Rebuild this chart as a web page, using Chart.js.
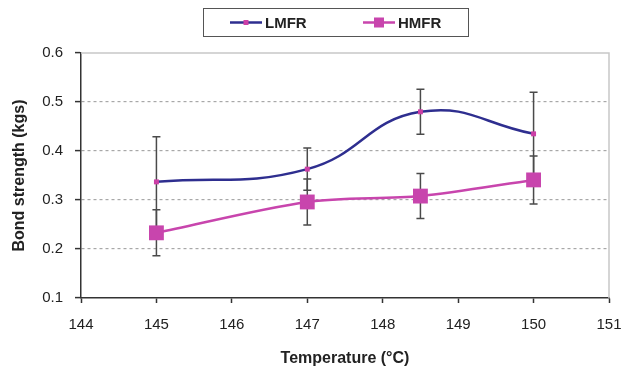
<!DOCTYPE html>
<html>
<head>
<meta charset="utf-8">
<script src="https://cdn.jsdelivr.net/npm/chart.js@4"></script>
<style>
  html, body { margin: 0; padding: 0; background: #fff; }
  #wrap { width: 622px; height: 368px; }
</style>
</head>
<body>
<div id="wrap"><canvas id="bondChart" width="622" height="368"></canvas></div>
<script>
// Temperatures (°C) and mean bond strength (kgs) with ± error
const temperatures = [145, 147, 148.5, 150];
const lmfrValues = [0.337, 0.363, 0.480, 0.435];
const lmfrErrors = [0.092, 0.043, 0.046, 0.085];
const hmfrValues = [0.233, 0.296, 0.308, 0.341];
const hmfrErrors = [0.047, 0.047, 0.046, 0.049];
const seriesNames = ['LMFR', 'HMFR'];
const xTicks = [144, 145, 146, 147, 148, 149, 150, 151];
const yTicks = [0.1, 0.2, 0.3, 0.4, 0.5, 0.6];

const LMFR_LINE = '#2e2e8f';
const LMFR_MARK = '#cc3fa6';
const HMFR_COLOR = '#c845ad';
const FONT = 'Liberation Sans, Arial, sans-serif';

function toPoints(values) {
    return temperatures.map((t, i) => ({ x: t, y: values[i] }));
}

// Vertical error bars with caps, drawn under the lines and markers
const errorBars = {
    id: 'errorBars',
    beforeDatasetsDraw(chart) {
        const { ctx, scales: { x, y } } = chart;
        const sets = [[lmfrValues, lmfrErrors], [hmfrValues, hmfrErrors]];
        ctx.save();
        ctx.strokeStyle = '#4a4a4a';
        ctx.lineWidth = 1.5;
        sets.forEach(([vals, errs]) => {
            vals.forEach((v, i) => {
                const px = x.getPixelForValue(temperatures[i]);
                const top = y.getPixelForValue(v + errs[i]);
                const bot = y.getPixelForValue(v - errs[i]);
                ctx.beginPath();
                ctx.moveTo(px, top); ctx.lineTo(px, bot);
                ctx.moveTo(px - 4, top); ctx.lineTo(px + 4, top);
                ctx.moveTo(px - 4, bot); ctx.lineTo(px + 4, bot);
                ctx.stroke();
            });
        });
        ctx.restore();
    }
};

// Light frame on the top and right of the plot area
const plotFrame = {
    id: 'plotFrame',
    beforeDatasetsDraw(chart) {
        const { ctx, chartArea: a } = chart;
        ctx.save();
        ctx.strokeStyle = '#c8c8c8';
        ctx.lineWidth = 1.5;
        ctx.beginPath();
        ctx.moveTo(a.left, a.top);
        ctx.lineTo(a.right, a.top);
        ctx.lineTo(a.right, a.bottom);
        ctx.stroke();
        ctx.restore();
    }
};

// Boxed legend with line-and-marker samples
const boxLegend = {
    id: 'boxLegend',
    afterDraw(chart) {
        const { ctx } = chart;
        ctx.save();
        ctx.strokeStyle = '#555';
        ctx.lineWidth = 1;
        ctx.strokeRect(203.5, 8.5, 265, 28);
        const items = [
            { x: 230, line: LMFR_LINE, mark: LMFR_MARK, size: 5 },
            { x: 363, line: HMFR_COLOR, mark: HMFR_COLOR, size: 10 }
        ];
        items.forEach((it, i) => {
            const cy = 22.5;
            ctx.strokeStyle = it.line;
            ctx.lineWidth = 2.5;
            ctx.beginPath();
            ctx.moveTo(it.x, cy); ctx.lineTo(it.x + 32, cy);
            ctx.stroke();
            ctx.fillStyle = it.mark;
            ctx.fillRect(it.x + 16 - it.size / 2, cy - it.size / 2, it.size, it.size);
            ctx.fillStyle = '#222';
            ctx.font = 'bold 15px ' + FONT;
            ctx.textBaseline = 'middle';
            ctx.fillText(seriesNames[i], it.x + 35, cy + 1);
        });
        ctx.restore();
    }
};

new Chart(document.getElementById('bondChart'), {
    type: 'scatter',
    data: {
        datasets: [
            {
                label: seriesNames[0],
                data: toPoints(lmfrValues),
                showLine: true,
                tension: 0.45,
                borderColor: LMFR_LINE,
                borderWidth: 2.5,
                pointStyle: 'rect',
                pointRadius: 3.5,
                pointBackgroundColor: LMFR_MARK,
                pointBorderWidth: 0
            },
            {
                label: seriesNames[1],
                data: toPoints(hmfrValues),
                showLine: true,
                tension: 0.3,
                borderColor: HMFR_COLOR,
                borderWidth: 2.5,
                pointStyle: 'rect',
                pointRadius: 10.5,
                pointBackgroundColor: HMFR_COLOR,
                pointBorderWidth: 0
            }
        ]
    },
    options: {
        responsive: false,
        animation: false,
        layout: { padding: { top: 53, right: 0, left: 0, bottom: 0 } },
        plugins: {
            legend: { display: false },
            tooltip: { enabled: false }
        },
        scales: {
            x: {
                type: 'linear',
                min: xTicks[0],
                max: xTicks[xTicks.length - 1],
                afterBuildTicks: scale => { scale.ticks = xTicks.map(v => ({ value: v })); },
                afterFit: scale => {
                    scale.height = 70;
                    scale.paddingLeft = 0;
                    scale.paddingRight = 13;
                },
                border: { display: true, color: '#333', width: 1.5 },
                grid: { drawOnChartArea: false, drawTicks: true, tickLength: 5, color: '#333', tickWidth: 1.5 },
                ticks: { color: '#222', padding: 13, font: { family: FONT, size: 15 } },
                title: {
                    display: true,
                    text: 'Temperature (°C)',
                    color: '#222',
                    font: { family: FONT, size: 16, weight: 'bold' },
                    padding: { top: 0, bottom: 0 }
                }
            },
            y: {
                min: yTicks[0],
                max: yTicks[yTicks.length - 1],
                afterBuildTicks: scale => { scale.ticks = yTicks.map(v => ({ value: v })); },
                afterFit: scale => { scale.width = 81; },
                border: { display: true, color: '#333', width: 1.5, dash: [3, 3] },
                grid: {
                    drawOnChartArea: true,
                    drawTicks: true,
                    tickLength: 6,
                    tickColor: '#333',
                    tickWidth: 1.5,
                    tickBorderDash: [],
                    lineWidth: 1.2,
                    color: ctx => (ctx.tick && (ctx.tick.value <= 0.1001 || ctx.tick.value >= 0.5999)) ? 'rgba(0,0,0,0)' : '#a8a8a8'
                },
                ticks: {
                    color: '#222',
                    padding: 12,
                    font: { family: FONT, size: 15 },
                    callback: v => v.toFixed(1)
                },
                title: {
                    display: true,
                    text: 'Bond strength (kgs)',
                    color: '#222',
                    font: { family: FONT, size: 16, weight: 'bold' },
                    padding: { top: 10, bottom: 0 }
                }
            }
        }
    },
    plugins: [errorBars, plotFrame, boxLegend]
});
</script>
</body>
</html>
